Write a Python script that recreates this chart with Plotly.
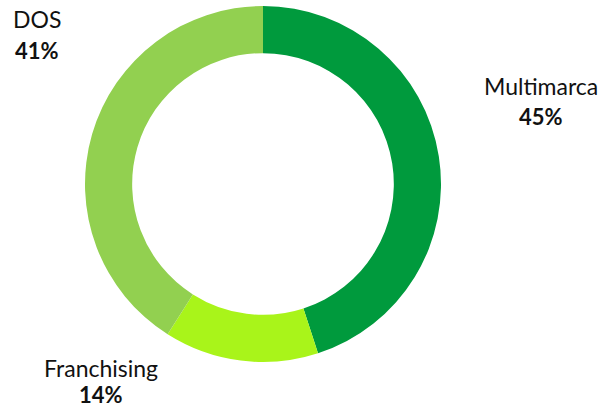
import plotly.graph_objects as go

labels = ["Multimarca", "Franchising", "DOS"]
values = [45, 14, 41]
colors = ["#009A3D", "#A9F41A", "#92D050"]
pct_labels = ["45%", "14%", "41%"]
label_pos = [(541, 86, 117), (101, 368, 394), (37, 19, 50)]

W, H = 603, 408
fig = go.Figure(go.Pie(
    labels=labels, values=values, hole=0.735, sort=False, direction="clockwise",
    rotation=0, marker=dict(colors=colors, line=dict(width=0)),
    textinfo="none", hoverinfo="label+percent", showlegend=False,
    domain=dict(x=[85/W, 441/W], y=[1-362/H, 1-6/H]),
))

for lab, pct, (x, y1, y2) in zip(labels, pct_labels, label_pos):
    fig.add_annotation(x=x/W, y=1-y1/H, xref="paper", yref="paper", text=lab,
                       showarrow=False, font=dict(family="Lato", size=23, color="#111"),
                       xanchor="center", yanchor="middle")
    fig.add_annotation(x=x/W, y=1-y2/H, xref="paper", yref="paper", text="<b>"+pct+"</b>",
                       showarrow=False, font=dict(family="Lato", size=22, color="#111"),
                       xanchor="center", yanchor="middle")

fig.update_layout(width=W, height=H, margin=dict(l=0, r=0, t=0, b=0),
                  paper_bgcolor="white", plot_bgcolor="white")
fig.write_html("out.html")
